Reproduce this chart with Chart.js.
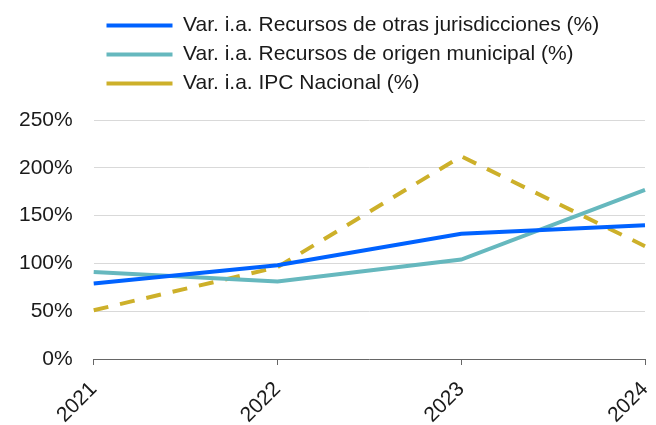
<!DOCTYPE html>
<html><head><meta charset="utf-8">
<script src="https://cdn.jsdelivr.net/npm/chart.js@4.4.1/dist/chart.umd.min.js"></script>
<style>html,body{margin:0;padding:0;background:#fff}#wrap{width:656px;height:425px}</style>
</head><body><div id="wrap"><canvas id="c" width="656" height="425"></canvas></div>
<script>
const years = ['2021', '2022', '2023', '2024'];
const otrasJurisdicciones = [79, 98, 131, 140];
const origenMunicipal = [91, 81, 104, 177];
const ipcNacional = [51, 96, 212, 118];
const yMin = 0, yMax = 250, yStep = 50;
const seriesNames = [
  'Var. i.a. Recursos de otras jurisdicciones (%)',
  'Var. i.a. Recursos de origen municipal (%)',
  'Var. i.a. IPC Nacional (%)'
];

const FONT = "'Liberation Sans', Arial, sans-serif";
const TXT = '#1a1a1a';

const legendTweak = {
  id: 'legendTweak',
  beforeLayout(chart) {
    const lg = chart.legend;
    if (lg && !lg._patched) {
      const f = lg.fit;
      lg.fit = function () { f.call(this); this.height += 16; };
      lg._patched = true;
    }
  },
  afterLayout(chart) {
    const lg = chart.legend;
    if (lg) lg.left = 106.5 - lg.options.labels.padding;
  }
};

new Chart(document.getElementById('c'), {
  type: 'line',
  data: {
    labels: years,
    datasets: [
      { label: seriesNames[0], data: otrasJurisdicciones, borderColor: '#0062FF', backgroundColor: '#0062FF',
        borderWidth: 4, pointRadius: 0, tension: 0, borderCapStyle: 'butt' },
      { label: seriesNames[1], data: origenMunicipal, borderColor: '#66B8BE', backgroundColor: '#66B8BE',
        borderWidth: 4, pointRadius: 0, tension: 0, borderCapStyle: 'butt' },
      { label: seriesNames[2], data: ipcNacional, borderColor: '#CDB02A', backgroundColor: '#CDB02A',
        borderWidth: 4, pointRadius: 0, tension: 0, borderDash: [15, 12], borderCapStyle: 'butt' }
    ]
  },
  options: {
    responsive: false,
    animation: false,
    layout: { padding: { top: 7, left: -2, right: 0, bottom: 0 } },
    plugins: {
      legend: {
        position: 'top', align: 'start',
        labels: { usePointStyle: true, pointStyle: 'line', pointStyleWidth: 66,
          font: { size: 21, family: FONT }, color: TXT, padding: 8 }
      },
      tooltip: { enabled: false }
    },
    scales: {
      x: {
        offset: false,
        grid: { drawOnChartArea: false, drawTicks: true, tickLength: 6, color: '#666' },
        border: { display: true, color: '#666', width: 1 },
        ticks: { maxRotation: 45, minRotation: 45, font: { size: 21, family: FONT }, color: TXT, padding: 12 },
        afterFit(s) { s.paddingRight = 11; s.height = 66; }
      },
      y: {
        min: yMin, max: yMax,
        grid: { color: '#d9d9d9', lineWidth: 1, drawTicks: false },
        border: { display: false },
        ticks: { stepSize: yStep, padding: 21, font: { size: 21, family: FONT }, color: TXT,
          callback: v => v + '%' }
      }
    }
  },
  plugins: [legendTweak]
});
</script></body></html>
